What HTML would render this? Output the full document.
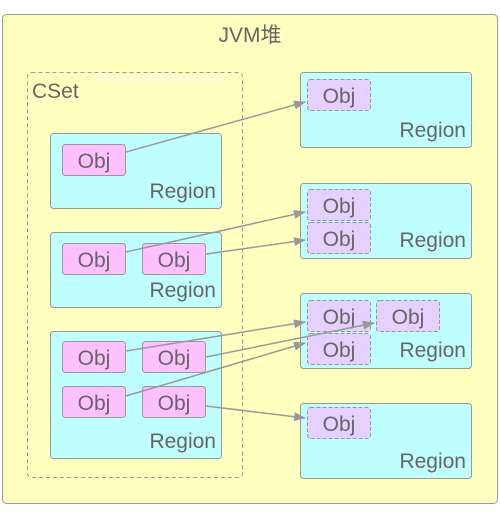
<!DOCTYPE html>
<html><head><style>
body{margin:0;width:500px;height:518px;background:#fff;overflow:hidden}
svg text{font-family:"Liberation Sans","Noto Sans CJK SC",sans-serif;fill:#666;font-size:21px}
</style></head><body>
<svg width="500" height="518" viewBox="0 0 500 518">
<defs><marker id="a" markerWidth="12" markerHeight="9" refX="11" refY="4.5" orient="auto" markerUnits="userSpaceOnUse"><path d="M0,0L12,4.5L0,9z" fill="#999"/></marker></defs>
<rect x="2.5" y="14.5" width="495" height="489" rx="4" fill="#ffffc0" stroke="#999"/>
<text x="250" y="42" text-anchor="middle">JVM堆</text>
<rect x="27.5" y="72.5" width="215" height="405" rx="4" fill="none" stroke="#999" stroke-dasharray="4,3"/>
<line x1="96" y1="80" x2="223" y2="80" stroke="#fff" stroke-width="2"/>
<text x="32" y="98">CSet</text>
<g fill="#c0ffff" stroke="#999">
<rect x="50.5" y="133.5" width="171" height="75" rx="3"/>
<rect x="50.5" y="232.5" width="171" height="75" rx="3"/>
<rect x="50.5" y="331.5" width="171" height="127" rx="3"/>
<rect x="300.5" y="72.5" width="171" height="75" rx="3"/>
<rect x="300.5" y="183.5" width="171" height="75" rx="3"/>
<rect x="300.5" y="293.5" width="171" height="75" rx="3"/>
<rect x="300.5" y="403.5" width="171" height="75" rx="3"/>
</g>
<g text-anchor="end">
<text x="216" y="198">Region</text><text x="216" y="297">Region</text><text x="216" y="448">Region</text>
<text x="466" y="137">Region</text><text x="466" y="247">Region</text><text x="466" y="357">Region</text><text x="466" y="468">Region</text>
</g>
<g fill="#ffc0ff" stroke="#999">
<rect x="62.5" y="144.5" width="63" height="31" rx="3"/>
<rect x="62.5" y="243.5" width="63" height="31" rx="3"/>
<rect x="142.5" y="243.5" width="63" height="31" rx="3"/>
<rect x="62.5" y="341.5" width="63" height="31" rx="3"/>
<rect x="142.5" y="341.5" width="63" height="31" rx="3"/>
<rect x="62.5" y="386.5" width="63" height="31" rx="3"/>
<rect x="142.5" y="386.5" width="63" height="31" rx="3"/>
</g>
<g fill="#e6d0ff" stroke="#999" stroke-dasharray="4,2">
<rect x="307.5" y="79.5" width="63" height="31" rx="3"/>
<rect x="307.5" y="189.5" width="63" height="31" rx="3"/>
<rect x="307.5" y="222.5" width="63" height="31" rx="3"/>
<rect x="307.5" y="300.5" width="63" height="31" rx="3"/>
<rect x="376.5" y="300.5" width="63" height="31" rx="3"/>
<rect x="307.5" y="333.5" width="63" height="31" rx="3"/>
<rect x="307.5" y="407.5" width="63" height="31" rx="3"/>
</g>
<g text-anchor="middle">
<text x="94" y="168">Obj</text><text x="94" y="267">Obj</text><text x="174" y="267">Obj</text>
<text x="94" y="365">Obj</text><text x="174" y="365">Obj</text><text x="94" y="410">Obj</text><text x="174" y="410">Obj</text>
<text x="339" y="103">Obj</text><text x="339" y="213">Obj</text><text x="339" y="246">Obj</text>
<text x="339" y="324">Obj</text><text x="408" y="324">Obj</text><text x="339" y="357">Obj</text><text x="339" y="431">Obj</text>
</g>
<g stroke="#999" stroke-width="1.5" marker-end="url(#a)">
<line x1="126" y1="152" x2="305" y2="102"/>
<line x1="126" y1="252" x2="305" y2="212"/>
<line x1="206" y1="254" x2="305" y2="240"/>
<line x1="126" y1="351" x2="305" y2="322"/>
<line x1="206" y1="357" x2="374" y2="323"/>
<line x1="126" y1="396" x2="305" y2="343"/>
<line x1="206" y1="406" x2="305" y2="418"/>
</g>
</svg>
</body></html>
